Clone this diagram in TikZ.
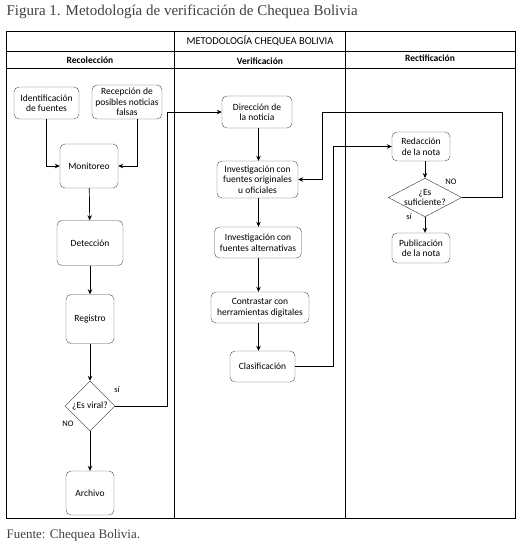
\documentclass[tikz,border=0pt]{standalone}
\usepackage{fontspec}
\setmainfont{Liberation Serif}
\newfontfamily\diagfont{Carlito}
\usetikzlibrary{arrows.meta, positioning, shapes.geometric}

\tikzset{
  proc/.style={draw=black!70, rounded corners=5pt, align=center, inner sep=1pt,
    font=\diagfont\fontsize{9.5}{10.5}\selectfont},
  decision/.style={draw=black!80, diamond, aspect=1, inner sep=0pt, align=center,
    font=\diagfont\fontsize{9.5}{10.5}\selectfont},
  flow/.style={-{Stealth[length=5pt,width=4.5pt]}, line width=0.7pt},
  lane/.style={line width=0.8pt},
  lanehead/.style={font=\diagfont\bfseries\fontsize{9.5}{10}\selectfont},
  lbl/.style={font=\diagfont\fontsize{8.5}{9}\selectfont}
}

\begin{document}
\begin{tikzpicture}[x=1pt, y=-1pt]
  \useasboundingbox (0,0) rectangle (525,547);
  % caption texts
  \node[anchor=west, font=\fontsize{15}{17}\selectfont, text=black!75] (fig) at (3,12)
    {Figura 1. Metodología de verificación de Chequea Bolivia};
  \node[anchor=west, font=\fontsize{13}{15}\selectfont, text=black!75] (src) at (3,535)
    {Fuente: Chequea Bolivia.};

  % swimlane table
  \draw[lane] (6,31) rectangle (515,518);
  \draw[lane] (6,51) -- (515,51);
  \draw[lane] (6,68) -- (515,68);
  \draw[lane] (174,31) -- (174,518);
  \draw[lane] (345,31) -- (345,518);
  \node[font=\diagfont\fontsize{10.5}{11}\selectfont] (hdr) at (260,41) {METODOLOGÍA CHEQUEA BOLIVIA};
  \node[lanehead] (l1) at (90,60) {Recolección};
  \node[lanehead] (l2) at (260,61) {Verificación};
  \node[lanehead] (l3) at (430,58) {Rectificación};

  % Recoleccion
  \node[proc, minimum width=65pt, minimum height=32pt] (idf) at (46.5,103) {Identificación\\de fuentes};
  \node[proc, minimum width=70pt, minimum height=34pt] (rec) at (127,102) {Recepción de\\posibles noticias\\falsas};
  \node[proc, minimum width=58pt, minimum height=44pt] (mon) at (89,166) {Monitoreo};
  \node[proc, minimum width=66pt, minimum height=45pt] (det) at (90,243) {Detección};
  \node[proc, minimum width=48pt, minimum height=49pt] (reg) at (90,319) {Registro};
  \node[decision, minimum width=50pt, minimum height=50pt] (vir) at (90,406) {¿Es viral?};
  \node[proc, minimum width=48pt, minimum height=44pt] (arc) at (90,493) {Archivo};

  % Verificacion
  \node[proc, minimum width=70pt, minimum height=32pt] (dir) at (257,112) {Dirección de\\la noticia};
  \node[proc, minimum width=81pt, minimum height=37pt] (ori) at (257.5,179.5) {Investigación con\\fuentes originales\\u oficiales};
  \node[proc, minimum width=87pt, minimum height=31pt] (alt) at (258,242.5) {Investigación con\\fuentes alternativas};
  \node[proc, minimum width=98pt, minimum height=31pt] (con) at (260,307.5) {Contrastar con\\herramientas digitales};
  \node[proc, minimum width=65pt, minimum height=31pt] (cla) at (262.5,366.5) {Clasificación};

  % Rectificacion
  \node[proc, minimum width=58pt, minimum height=29pt] (red) at (421,146.5) {Redacción\\de la nota};
  \node[decision, aspect=1.9, minimum width=64pt, minimum height=33pt] (suf) at (425,197.5) {¿Es\\suficiente?};
  \node[proc, minimum width=58pt, minimum height=30pt] (pub) at (421,248) {Publicación\\de la nota};

  % connectors
  \coordinate (recb) at (137,119);
  \coordinate (vx) at (258.5,0);
  \draw[flow] (idf.south) |- (mon.west);
  \draw[flow] (recb) |- (mon.east);
  \draw[flow] (mon) -- (det);
  \draw[flow] (det) -- (reg);
  \draw[flow] (reg) -- (vir);
  \draw[flow] (vir) -- (arc);
  \draw[flow] (vir.east) -- (167,406) |- (dir.west);
  \draw[flow] (vx |- dir.south) -- (vx |- ori.north);
  \draw[flow] (vx |- ori.south) -- (vx |- alt.north);
  \draw[flow] (vx |- alt.south) -- (vx |- con.north);
  \draw[flow] (vx |- con.south) -- (vx |- cla.north);
  \draw[flow] (cla.east) -- (333,366.5) |- (red.west);
  \draw[flow] (red.south -| suf.north) -- (suf.north);
  \draw[flow] (suf.south) -- (pub.north -| suf.south);
  \draw[flow] (suf.east) -- (502,197.5) -- (502,112) -- (322,112) |- (ori.east);

  % decision labels
  \node[lbl] (vsi) at (117,390) {sí};
  \node[lbl] (vno) at (68,424) {NO};
  \node[lbl] (sno) at (451,182) {NO};
  \node[lbl] (ssi) at (409,217) {sí};
\end{tikzpicture}
\end{document}
